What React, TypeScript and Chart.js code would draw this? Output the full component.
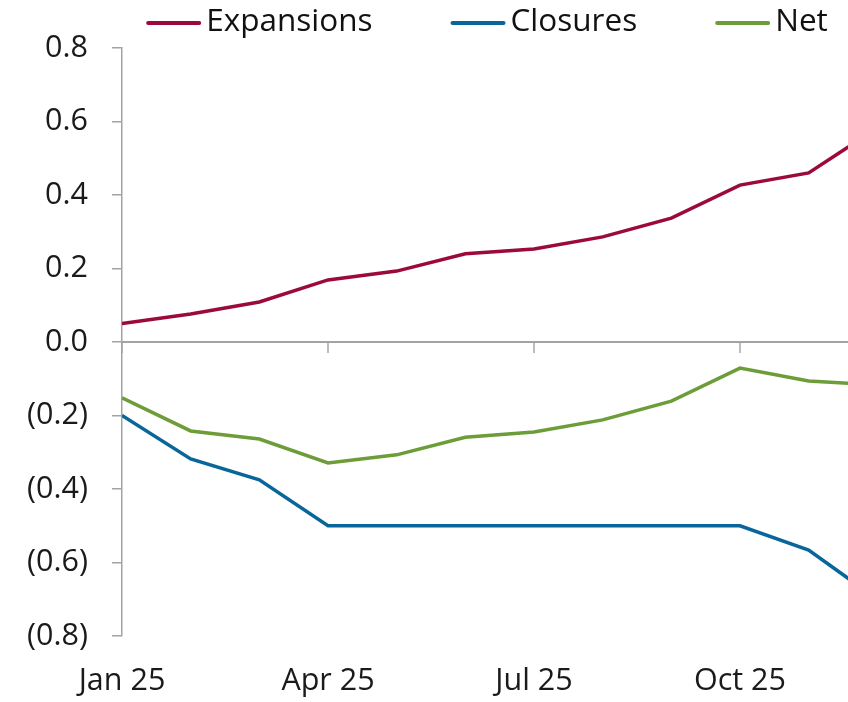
import { useEffect, useRef } from "react";
import { Chart, registerables } from "chart.js";

Chart.register(...registerables);

const categories = ["Jan 25", "Feb 25", "Mar 25", "Apr 25", "May 25", "Jun 25", "Jul 25", "Aug 25", "Sep 25", "Oct 25", "Nov 25", "Dec 25"];
const expansions = [0.05, 0.076, 0.109, 0.169, 0.193, 0.24, 0.253, 0.286, 0.337, 0.427, 0.46, 0.583];
const closures = [-0.2, -0.318, -0.375, -0.5, -0.5, -0.5, -0.5, -0.5, -0.5, -0.5, -0.566, -0.7];
const net = [-0.152, -0.242, -0.264, -0.329, -0.307, -0.259, -0.245, -0.212, -0.161, -0.071, -0.106, -0.117];
const xTickIndices = [0, 3, 6, 9];
const yMin = -0.8;
const yMax = 0.8;
const yStep = 0.2;
const visibleMonths = 10.573;

const FONT = '"Open Sans", "Noto Sans", sans-serif';
const AXIS_COLOR = "#a3a3a3";

const fmtY = (v: number) => {
  if (Math.abs(v) < 1e-9) return "0.0";
  return v < 0 ? `(${Math.abs(v).toFixed(1)})` : v.toFixed(1);
};

const legendPlugin = {
  id: "customLegend",
  afterDraw(chart: any) {
    const ctx = chart.ctx as CanvasRenderingContext2D;
    ctx.save();
    ctx.font = `31.5px ${FONT}`;
    const swatch = 55;
    const gapText = 5;
    const gapItem = 78;
    const items = chart.data.datasets.map((d: any) => ({
      label: d.label,
      color: d.borderColor,
      w: ctx.measureText(d.label).width,
    }));
    const total =
      items.reduce((s: number, it: any) => s + swatch + gapText + it.w, 0) +
      gapItem * (items.length - 1);
    const ca = chart.chartArea;
    let x = (ca.left + ca.right) / 2 - total / 2 + 2;
    items.forEach((it: any) => {
      ctx.strokeStyle = it.color;
      ctx.lineWidth = 4;
      ctx.lineCap = "round";
      ctx.beginPath();
      ctx.moveTo(x + 2, 23);
      ctx.lineTo(x + swatch - 2, 23);
      ctx.stroke();
      ctx.fillStyle = "#111";
      ctx.textBaseline = "middle";
      ctx.textAlign = "left";
      ctx.fillText(it.label, x + swatch + gapText, 22);
      x += swatch + gapText + it.w + gapItem;
    });
    ctx.restore();
  },
};

const toPoints = (arr: number[]) => arr.map((v, i) => ({ x: i, y: v }));
const setXTicks = (scale: any) => {
  scale.ticks = xTickIndices.map((v) => ({ value: v }));
};

export default function App() {
  const ref = useRef<HTMLCanvasElement | null>(null);
  useEffect(() => {
    if (!ref.current) return;
    const chart = new Chart(ref.current, {
      type: "line",
      data: {
        datasets: [
          { label: "Expansions", data: toPoints(expansions), borderColor: "#9b0a3a", backgroundColor: "#9b0a3a" },
          { label: "Closures", data: toPoints(closures), borderColor: "#08669a", backgroundColor: "#08669a" },
          { label: "Net", data: toPoints(net), borderColor: "#6c9d38", backgroundColor: "#6c9d38" },
        ].map((d) => ({ ...d, borderWidth: 3.5, pointRadius: 0, tension: 0, fill: false, xAxisID: "x", yAxisID: "y" })),
      },
      options: {
        animation: false,
        responsive: false,
        layout: { padding: { top: 48, left: 0, right: 0, bottom: 0 } },
        plugins: { legend: { display: false }, tooltip: { enabled: false } },
        scales: {
          x: {
            type: "linear",
            position: { y: 0 } as any,
            min: 0,
            max: visibleMonths,
            afterBuildTicks: setXTicks,
            ticks: { display: false },
            grid: { drawOnChartArea: false, drawTicks: true, tickLength: 10, color: "#bdbdbd", lineWidth: 2 },
            border: { color: AXIS_COLOR, width: 2 },
          },
          x2: {
            type: "linear",
            position: "bottom",
            min: 0,
            max: visibleMonths,
            afterBuildTicks: setXTicks,
            afterFit: (s: any) => {
              s.height = 66;
            },
            ticks: {
              padding: 27,
              color: "#1a1a1a",
              font: { family: FONT, size: 30.5 },
              maxRotation: 0,
              autoSkip: false,
              callback: (v: any) => categories[Number(v)] ?? "",
            },
            grid: { display: false, drawTicks: false },
            border: { display: false },
          },
          y: {
            type: "linear",
            position: "left",
            min: yMin,
            max: yMax,
            afterFit: (s: any) => {
              s.width = 122;
            },
            ticks: {
              stepSize: yStep,
              padding: 24,
              color: "#1a1a1a",
              font: { family: FONT, size: 30.5 },
              callback: (v: any) => fmtY(Number(v)),
            },
            grid: { drawOnChartArea: false, drawTicks: true, tickLength: 10, color: AXIS_COLOR, lineWidth: 1.5 },
            border: { color: AXIS_COLOR, width: 1.5 },
          },
        },
      },
      plugins: [legendPlugin],
    });
    return () => chart.destroy();
  }, []);
  return (
    <div style={{ position: "fixed", left: 0, top: 0, width: 848, height: 702, background: "#fff" }}>
      <canvas ref={ref} width={848} height={702} style={{ display: "block" }} />
    </div>
  );
}
